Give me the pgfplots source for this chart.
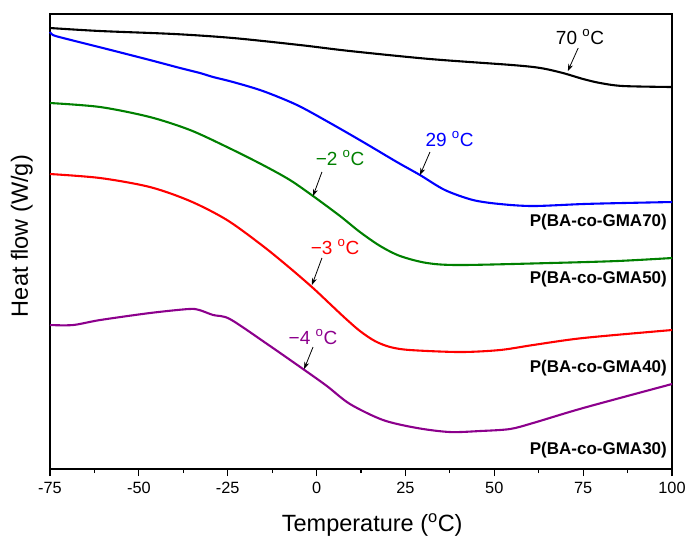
\documentclass[border=0pt]{standalone}
\usepackage{fontspec}
\setmainfont{Liberation Sans}
\usepackage{pgfplots}
\pgfplotsset{compat=1.18}
\usetikzlibrary{arrows.meta}
\definecolor{cgreen}{RGB}{0,128,0}
\definecolor{cpurple}{RGB}{140,0,140}
\begin{document}
\begin{tikzpicture}
\begin{axis}[
  width=622bp, height=455bp, scale only axis,
  xmin=-75, xmax=100, ymin=14, ymax=469, y dir=reverse,
  xtick={-75,-50,-25,0,25,50,75,100},
  xticklabels={-75,-50,-25,0,25,50,75,100},
  minor x tick num=1,
  ytick=\empty,
  xtick pos=bottom,
  tick align=outside,
  major tick length=7bp, minor tick length=4bp,
  axis line style={line width=1.1pt},
  every tick/.style={line width=1.1pt, black},
  ticklabel style={font=\fontsize{16.3bp}{19bp}\selectfont},
  xticklabel style={yshift=-3bp},
  xlabel={Temperature (\textsuperscript{o}C)},
  ylabel={Heat flow (W/g)},
  label style={font=\fontsize{23.5bp}{28bp}\selectfont},
  xlabel style={at={(axis description cs:0.518,-0.123)}, anchor=center},
  ylabel style={at={(axis description cs:-0.0455,0.512)}, anchor=center, rotate=0},
  clip=false,
]
\path (rel axis cs:-0.0804,-0.1692) rectangle (rel axis cs:1.0418,1.0308);
% black (Tg 70 C)
\addplot[black, line width=2.1pt, smooth, tension=0.5] coordinates {
(-75,28) (-60.9,31) (-40,34) (-23.5,38) (-4.7,45) (9.4,51) (31.9,59) (55,65) (63,68) (69.3,73) (75,79) (79.8,83) (86.2,86) (100,87)};
% blue (GMA70)
\addplot[blue, line width=2.1pt, smooth, tension=0.5] coordinates {
(-75,32) (-74.2,35) (-71.3,38) (-59.0,49) (-46.9,60) (-38.4,68) (-32.8,73) (-29.1,77) (-23.5,82) (-15.1,91) (-5.5,105) (3.8,123) (13.1,142) (22.6,162) (29.1,175) (36.1,190) (44.0,200) (51.6,204) (60.9,206) (75,204) (86.2,203) (100,202)};
% green (GMA50)
\addplot[cgreen, line width=2.1pt, smooth, tension=0.5] coordinates {
(-75,103) (-60.9,107) (-46.9,117) (-35.6,130) (-25.2,147) (-15.1,165) (-7.5,180) (-1.0,196) (6.6,216) (12.2,232) (17.9,246) (23.5,256) (31.1,263) (40.4,265) (65.7,263) (84.5,261) (100,258)};
% red (GMA40)
\addplot[red, line width=2.1pt, smooth, tension=0.5] coordinates {
(-75,174) (-60.9,178) (-46.9,187) (-35.6,201) (-25.2,220) (-15.1,246) (-7.5,268) (-1.0,288) (3.8,304) (8.0,318) (12.2,331) (16.4,341) (20.7,347) (26.3,350) (40.4,352) (51.6,350) (60.9,345) (75,338) (100,330)};
% purple (GMA30)
\addplot[cpurple, line width=2.1pt, smooth, tension=0.5] coordinates {
(-75,325) (-68.5,325) (-60.9,320) (-46.9,313) (-36,309) (-33,310) (-29.1,315) (-24.4,319) (-13.9,344) (-3.8,369) (2.9,386) (9.4,404) (18.7,420) (28.3,428) (37.5,432) (46.0,431) (54.4,429) (60.9,423) (75,408) (100,384)};

% annotations
\begin{scope}[every node/.style={font=\fontsize{19bp}{22bp}\selectfont, anchor=center}]
\node[black] at (axis cs:74.1,37) {70 \textsuperscript{o}C};
\node[blue] at (axis cs:37.4,139) {29 \textsuperscript{o}C};
\node[cgreen] at (axis cs:6.6,158) {−2 \textsuperscript{o}C};
\node[red] at (axis cs:5.2,247) {−3 \textsuperscript{o}C};
\node[cpurple] at (axis cs:-1.0,337) {−4 \textsuperscript{o}C};
\end{scope}
\begin{scope}[line width=0.8pt, -{Stealth[length=7bp,width=5bp]}]
\draw (axis cs:73.6,48) -- (axis cs:70.7,71);
\draw (axis cs:31.9,152) -- (axis cs:29.1,175);
\draw (axis cs:1.5,172) -- (axis cs:-1.0,196);
\draw (axis cs:1.5,258) -- (axis cs:-1.3,285);
\draw (axis cs:-1.0,347) -- (axis cs:-3.5,369);
\end{scope}
\begin{scope}[every node/.style={font=\bfseries\fontsize{17bp}{20bp}\selectfont, anchor=east, inner sep=0pt}]
\node at (axis cs:98.6,222) {P(BA-co-GMA70)};
\node at (axis cs:98.6,279) {P(BA-co-GMA50)};
\node at (axis cs:98.6,368) {P(BA-co-GMA40)};
\node at (axis cs:98.6,450) {P(BA-co-GMA30)};
\end{scope}
\end{axis}
\end{tikzpicture}
\end{document}
